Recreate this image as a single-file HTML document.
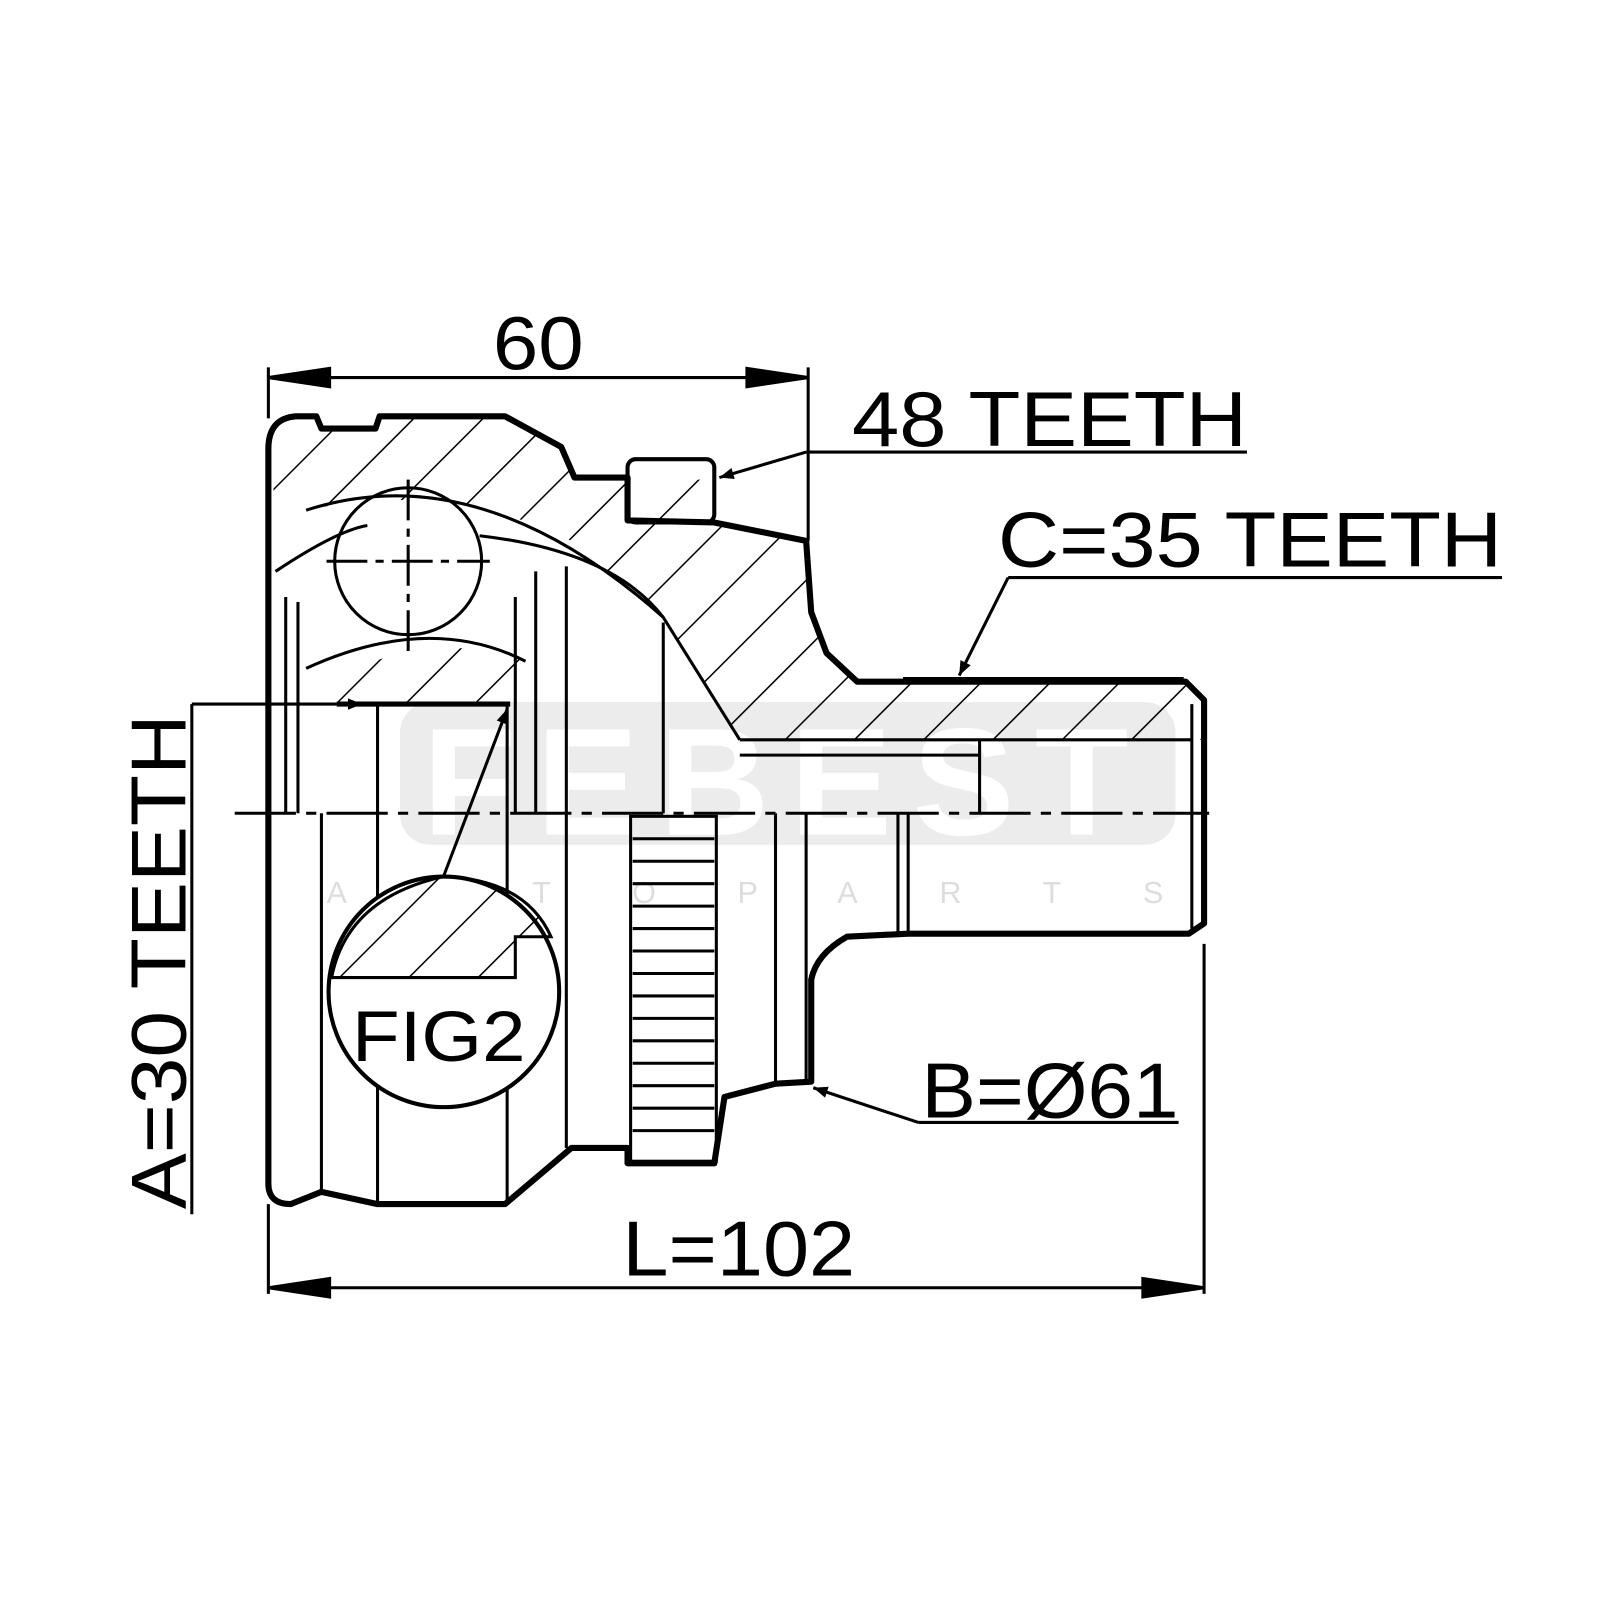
<!DOCTYPE html>
<html><head><meta charset="utf-8"><style>
html,body{margin:0;padding:0;background:#fff}
svg{display:block}
text{font-family:"Liberation Sans",sans-serif;fill:#000}
</style></head><body>
<svg width="1600" height="1600" viewBox="0 0 1568 1568" xmlns="http://www.w3.org/2000/svg">
<defs>
<pattern id="h" patternUnits="userSpaceOnUse" width="48" height="48" patternTransform="rotate(45)">
<line x1="0" y1="0" x2="0" y2="48" stroke="#000" stroke-width="3"/>
</pattern>
<marker id="a" viewBox="0 0 10 10" refX="10" refY="5" markerWidth="26" markerHeight="14" orient="auto" markerUnits="userSpaceOnUse">
<path d="M0,1 L10,5 L0,9 z" fill="#000"/></marker>
</defs>
<!-- watermark -->
<rect x="392" y="688" width="760" height="140" rx="30" fill="#ececec"/>
<text x="770" y="818" font-size="150" font-weight="bold" text-anchor="middle" letter-spacing="20" style="fill:#fff">FEBEST</text>
<text x="770" y="885" font-size="30" text-anchor="middle" letter-spacing="80" style="fill:#ddd">AUTOPARTS</text>

<g fill="none" stroke="#000" stroke-width="3">
<line x1="263" y1="360" x2="263" y2="410"/><line x1="792" y1="360" x2="792" y2="530"/>
<line x1="263" y1="370" x2="792" y2="370"/>
<path d="M263,370 l60,-9 v18z M792,370 l-60,-9 v18z" fill="#000"/>
<line x1="790" y1="443" x2="1222" y2="443"/>
<line x1="790" y1="443" x2="705" y2="468" marker-end="url(#a)"/>
<line x1="988" y1="566" x2="1472" y2="566"/>
<line x1="988" y1="566" x2="940" y2="662" marker-end="url(#a)"/>
<line x1="900" y1="1100" x2="1155" y2="1100"/>
<line x1="900" y1="1100" x2="797" y2="1066" marker-end="url(#a)"/>
<line x1="188" y1="690" x2="188" y2="1190"/>
<line x1="188" y1="690" x2="355" y2="690" marker-end="url(#a)"/>
<line x1="263" y1="1180" x2="263" y2="1268"/><line x1="1180" y1="925" x2="1180" y2="1268"/>
<line x1="263" y1="1262" x2="1180" y2="1262"/>
<path d="M263,1262 l60,-9 v18z M1180,1262 l-60,-9 v18z" fill="#000"/>
</g>

<path d="M268,500 L268,430 Q270,410 290,410 L310,410 L315,420 L368,420 L372,410 L495,410 L550,440 L563,470 L615,470 L615,510 L700,512 L790,530 L795,600 L810,640 L840,670 L1160,670 L1180,690 L1180,725 L725,725 L650,605 L560,530 Q440,470 300,500 Z" fill="url(#h)"/>
<path d="M330,665 Q420,615 515,648 L500,690 L330,690 Z" fill="url(#h)"/>
<path d="M615,470 L700,470 L700,512 L615,512 Z" fill="url(#h)"/>
<path d="M263,440 Q263,410 290,408 L310,408 L315,420 L368,420 L372,408 L495,408 L550,438 L563,468 L615,468 L615,510 L700,512 L790,530 L795,600 L810,640 L840,668 L1162,668 L1180,686 L1180,905 L1165,915 L890,915 L830,918 Q800,935 795,960 L795,1060 L760,1062 L710,1075 L700,1140 L615,1140 L615,1125 L560,1125 L495,1180 L370,1180 L315,1168 L285,1180 Q263,1180 263,1160 Z" fill="none" stroke="#000" stroke-width="6" stroke-linejoin="round"/>
<rect x="615" y="450" width="85" height="62" rx="8" fill="none" stroke="#000" stroke-width="4"/>

<g fill="none" stroke="#000" stroke-width="3">
<path d="M300,500 Q470,445 650,605 L725,725"/>
<path d="M470,525 Q600,540 650,605"/>
<path d="M270,560 Q330,520 360,515"/>
<circle cx="400" cy="550" r="72"/>
<line x1="400" y1="470" x2="400" y2="640" stroke-dasharray="40,8,8,8"/>
<line x1="320" y1="550" x2="480" y2="550" stroke-dasharray="40,8,8,8"/>
<path d="M300,655 Q420,600 515,648"/>
<line x1="280" y1="585" x2="280" y2="797"/><line x1="292" y1="590" x2="292" y2="797"/>
<line x1="505" y1="585" x2="505" y2="797"/><line x1="525" y1="560" x2="525" y2="797"/>
<line x1="555" y1="555" x2="555" y2="1125"/><line x1="650" y1="610" x2="650" y2="797"/>
<line x1="330" y1="690" x2="500" y2="690" stroke-width="5"/>
<line x1="370" y1="690" x2="370" y2="1180"/><line x1="315" y1="797" x2="315" y2="1168"/>
<line x1="497" y1="690" x2="497" y2="1180"/>
<line x1="725" y1="725" x2="1168" y2="725"/><line x1="725" y1="740" x2="960" y2="740"/>
<line x1="960" y1="725" x2="960" y2="797"/><line x1="1168" y1="690" x2="1168" y2="910"/>
<line x1="760" y1="797" x2="760" y2="1062"/><line x1="790" y1="797" x2="790" y2="1062"/>
<line x1="880" y1="797" x2="880" y2="915"/><line x1="890" y1="797" x2="890" y2="915"/>
<line x1="885" y1="665" x2="1160" y2="665"/>
<rect x="618" y="800" width="84" height="338"/>
<line x1="230" y1="797" x2="1185" y2="797" stroke-dasharray="60,10,10,10"/>
</g>
<g stroke="#000" stroke-width="3">
<line x1="620" y1="822" x2="700" y2="822"/><line x1="620" y1="844" x2="700" y2="844"/>
<line x1="620" y1="866" x2="700" y2="866"/><line x1="620" y1="888" x2="700" y2="888"/>
<line x1="620" y1="910" x2="700" y2="910"/><line x1="620" y1="932" x2="700" y2="932"/>
<line x1="620" y1="954" x2="700" y2="954"/><line x1="620" y1="976" x2="700" y2="976"/>
<line x1="620" y1="998" x2="700" y2="998"/><line x1="620" y1="1020" x2="700" y2="1020"/>
<line x1="620" y1="1042" x2="700" y2="1042"/><line x1="620" y1="1064" x2="700" y2="1064"/>
<line x1="620" y1="1086" x2="700" y2="1086"/><line x1="620" y1="1108" x2="700" y2="1108"/>
</g>

<circle cx="435" cy="972" r="113" fill="#fff" stroke="#000" stroke-width="4"/>
<path d="M325,958 Q340,880 435,859 Q515,862 540,918 L505,918 L505,958 Z" fill="url(#h)" stroke="#000" stroke-width="3"/>
<line x1="435" y1="858" x2="497" y2="695" stroke="#000" stroke-width="3" marker-end="url(#a)"/>
<text x="345" y="1040" font-size="70" textLength="170" lengthAdjust="spacingAndGlyphs">FIG2</text>

<text x="483" y="362" font-size="74" textLength="89" lengthAdjust="spacingAndGlyphs">60</text>
<text x="835" y="437" font-size="76" textLength="387" lengthAdjust="spacingAndGlyphs">48 TEETH</text>
<text x="978" y="555" font-size="76" textLength="494" lengthAdjust="spacingAndGlyphs">C=35 TEETH</text>
<text x="903" y="1095" font-size="76" textLength="252" lengthAdjust="spacingAndGlyphs">B=Ø61</text>
<text x="610" y="1250" font-size="76" textLength="228" lengthAdjust="spacingAndGlyphs">L=102</text>
<text transform="translate(182,1185) rotate(-90)" font-size="76" textLength="485" lengthAdjust="spacingAndGlyphs">A=30 TEETH</text>
</svg>
</body></html>
